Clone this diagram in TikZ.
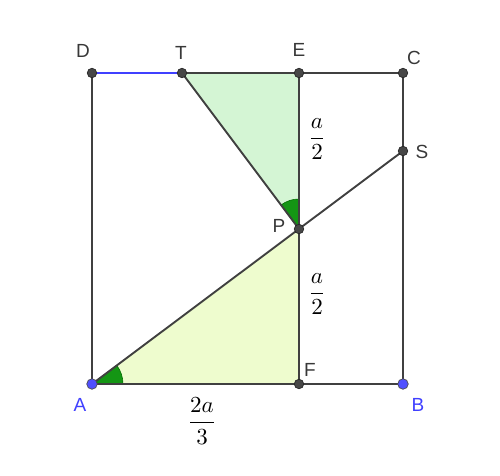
\documentclass[tikz,border=0pt]{standalone}
\usepackage{fontspec}
\setsansfont{Liberation Sans}
\definecolor{ggblue}{RGB}{64,64,255}
\definecolor{ggbluept}{RGB}{80,80,255}
\definecolor{triA}{RGB}{212,245,212}
\definecolor{triB}{RGB}{238,252,206}
\definecolor{angg}{RGB}{20,150,20}
\definecolor{anggd}{RGB}{0,110,0}
\begin{document}
\begin{tikzpicture}[x=1pt,y=1pt,
  seg/.style={draw=black!75, line width=1.9pt},
  bluseg/.style={draw=ggblue, line width=1.9pt},
  pt/.style={circle, fill=black!72, draw=black!85, line width=0.7pt, inner sep=0pt, minimum size=9.5pt},
  bpt/.style={circle, fill=ggbluept, draw=black!70, line width=0.7pt, inner sep=0pt, minimum size=10.5pt},
  lab/.style={font=\sffamily\fontsize{19}{19}\selectfont, text=black!78},
  blab/.style={font=\sffamily\fontsize{19}{19}\selectfont, text=ggblue},
  frac/.style={inner sep=0pt},
  angfill/.style={fill=angg, draw=anggd, line width=0.6pt}]
\useasboundingbox (0,0) rectangle (500,475);
\coordinate (A) at (92,91);
\coordinate (B) at (403,91);
\coordinate (C) at (403,402);
\coordinate (D) at (92,402);
\coordinate (E) at (299,402);
\coordinate (F) at (299,91);
\coordinate (P) at (299,246);
\coordinate (T) at (182,402);
\coordinate (S) at (403,324);
% fills
\fill[triA] (P) -- (T) -- (E) -- cycle;
\fill[triB] (A) -- (F) -- (P) -- cycle;
% angle sectors
\filldraw[angfill] (A) -- ++(0:31) arc (0:36.8:31) -- cycle;
\filldraw[angfill] (P) -- ++(90:30) arc (90:126.9:30) -- cycle;
% segments
\draw[seg] (A) -- (B) -- (C) -- (E);
\draw[seg] (E) -- (T);
\draw[bluseg] (T) -- (D);
\draw[seg] (D) -- (A);
\draw[seg] (E) -- (F);
\draw[seg] (A) -- (S);
\draw[seg] (T) -- (P);
% points
\node[pt] (nC) at (C) {};
\node[pt] (nD) at (D) {};
\node[pt] (nE) at (E) {};
\node[pt] (nF) at (F) {};
\node[pt] (nP) at (P) {};
\node[pt] (nT) at (T) {};
\node[pt] (nS) at (S) {};
\node[bpt] (nA) at (A) {};
\node[bpt] (nB) at (B) {};
% labels
\node[lab] (lD) at (83,424) {D};
\node[lab] (lT) at (181,422) {T};
\node[lab] (lE) at (299,425) {E};
\node[lab] (lC) at (414,417) {C};
\node[lab] (lS) at (422,323) {S};
\node[lab] (lP) at (279,249) {P};
\node[lab] (lF) at (310,105) {F};
\node[blab] (lA) at (80,70) {A};
\node[blab] (lB) at (418,70) {B};
\node[frac] (f1) at (317,336) {\scalebox{2.3}{$\displaystyle\frac{a}{2}$}};
\node[frac] (f2) at (317,181) {\scalebox{2.3}{$\displaystyle\frac{a}{2}$}};
\node[frac] (f3) at (202,54) {\scalebox{2.3}{$\displaystyle\frac{2a}{3}$}};
\end{tikzpicture}
\end{document}
